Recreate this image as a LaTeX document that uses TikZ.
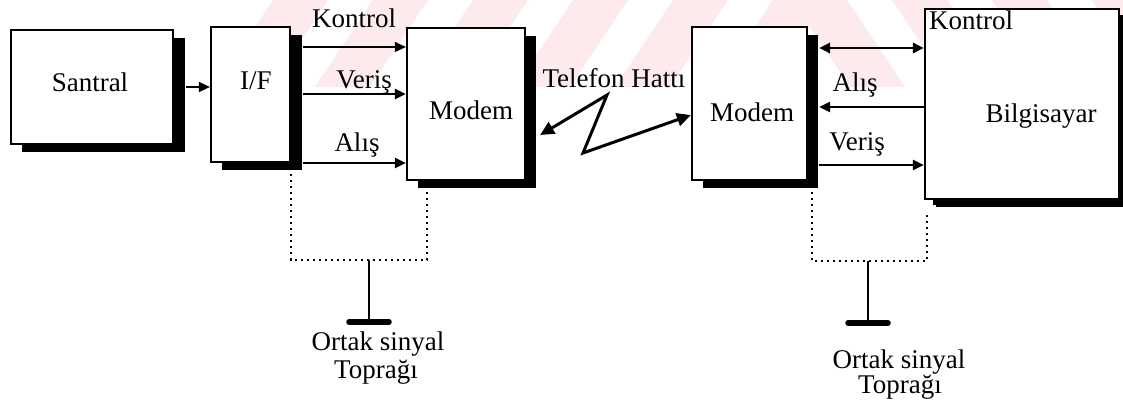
\documentclass[tikz,border=0pt]{standalone}
\usepackage{fontspec}
\setmainfont{Liberation Serif}
\usetikzlibrary{arrows.meta,shadows}
\definecolor{wmpink}{RGB}{253,234,236}

\begin{document}
\begin{tikzpicture}[x=1pt,y=-1pt,
  font=\fontsize{27}{29}\selectfont,
  blk/.style={draw, line width=2.2pt, fill=white, inner sep=0pt,
    drop shadow={shadow xshift=11pt, shadow yshift=-8pt, fill=black, opacity=1}},
  lbl/.style={inner sep=0pt, text height=0.68em, text depth=0.22em},
  sig/.style={-{Triangle[length=11pt,width=10pt]}},
  dbl/.style={{Triangle[length=11pt,width=10pt]}-{Triangle[length=11pt,width=10pt]}},
  zig/.style={{Triangle[length=14pt,width=13pt]}-{Triangle[length=14pt,width=13pt]},
    line width=3pt, line join=miter},
  gndbox/.style={line width=2.2pt, dash pattern=on 2.2pt off 3.8pt},
  stem/.style={line width=2.6pt},
  gndbar/.style={line width=5.5pt, line cap=round}]

\useasboundingbox (0,0) rectangle (1123,408);
\fill[white] (0,0) rectangle (1123,408);

% faint striped band along the top edge
\begin{scope}
  \clip (0,0) rectangle (1123,87);
  \foreach \x in {215,315,415,515,615,715}
    \fill[wmpink] (\x,87) -- (\x+55,87) -- (\x+113,0) -- (\x+58,0) -- cycle;
  \foreach \x in {850,950,1050,1150}
    \fill[wmpink] (\x,87) -- (\x+55,87) -- (\x-3,0) -- (\x-58,0) -- cycle;
\end{scope}

% blocks
\node[blk, minimum width=162pt, minimum height=114pt,
  drop shadow={shadow xshift=12pt, shadow yshift=-8pt, fill=black, opacity=1}]
  (santral) at (92,87) {};
\node[blk, minimum width=79pt, minimum height=135pt,
  drop shadow={shadow xshift=12pt, shadow yshift=-8pt, fill=black, opacity=1}]
  (if) at (250.5,94.5) {};
\node[blk, minimum width=118pt, minimum height=152pt] (modemA) at (466,104) {};
\node[blk, minimum width=115pt, minimum height=153pt] (modemB) at (749.5,103.5) {};
\node[blk, minimum width=194pt, minimum height=190pt,
  drop shadow={shadow xshift=8pt, shadow yshift=-6pt, fill=black, opacity=1}]
  (bilg) at (1022,104) {};

% block captions
\node[lbl] (tSantral) at (90,89) {Santral};
\node[lbl] (tIf) at (256,87) {I/F};
\node[lbl] (tModemA) at (471,117) {Modem};
\node[lbl] (tModemB) at (752,119) {Modem};
\node[lbl] (tBilg) at (1041,120) {Bilgisayar};
\node[lbl] (tKontrolB) at (971,27) {Kontrol};

% santral to interface
\path (santral.east) ++(12,0) coordinate (so);
\draw[sig, line width=1.5pt] (so) -- (if.west |- so);

% interface to modem
\path (if.east) ++(12,0) coordinate (io);
\draw[sig, line width=1.5pt] (io |- 0,47) -- (modemA.west |- 0,47);
\draw[sig, line width=2.4pt] (io |- 0,94) -- (modemA.west |- 0,94);
\draw[sig, line width=2pt] (io |- 0,163) -- (modemA.west |- 0,163);
\node[lbl] (tKontrolA) at (354,25) {Kontrol};
\node[lbl] (tVerisA) at (364,86) {Veriş};
\node[lbl] (tAlisA) at (357,149) {Alış};

% telephone line
\path (modemA.east) ++(14,0) coordinate (mo);
\draw[zig] (mo |- 0,135) -- (607,95) -- (583,153) -- (modemB.west |- 0,115);
\node[lbl] (tHat) at (614,85) {Telefon Hattı};

% modem to computer
\path (modemB.east) ++(11,0) coordinate (mbo);
\draw[dbl, line width=2.8pt] (mbo |- 0,48) -- (bilg.west |- 0,48);
\draw[sig, line width=2.4pt] (bilg.west |- 0,107) -- (mbo |- 0,107);
\draw[sig, line width=2.4pt] (mbo |- 0,165) -- (bilg.west |- 0,165);
\node[lbl] (tAlisB) at (855,89) {Alış};
\node[lbl] (tVerisB) at (857,148) {Veriş};

% common signal ground, left
\coordinate (gA) at (369,260);
\draw[gndbox] (291,174) -- (291,260) -- (427,260) -- (427,192);
\draw[stem] (gA) -- ++(0,62) coordinate (gAb);
\draw[gndbar] ([xshift=-20pt]gAb) -- ([xshift=20pt]gAb);
\node[lbl] (tGndA1) at (378,348) {Ortak sinyal};
\node[lbl] (tGndA2) at (376,376) {Toprağı};

% common signal ground, right
\coordinate (gB) at (868,261);
\draw[gndbox] (812,192) -- (812,261) -- (927,261) -- (927,212);
\draw[stem] (gB) -- ++(0,62) coordinate (gBb);
\draw[gndbar] ([xshift=-20pt]gBb) -- ([xshift=20pt]gBb);
\node[lbl] (tGndB1) at (899,366) {Ortak sinyal};
\node[lbl] (tGndB2) at (900,391) {Toprağı};

\end{tikzpicture}
\end{document}
